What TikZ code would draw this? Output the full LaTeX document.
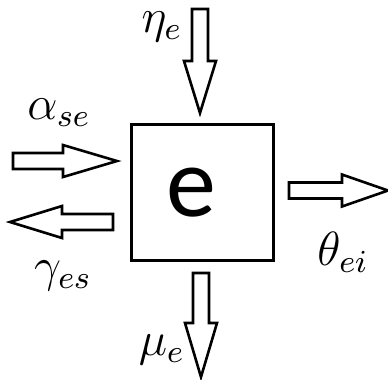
\documentclass[tikz,border=0pt]{standalone}
\usepackage{fontspec}
\newfontfamily\boitefont{Carlito}
\tikzset{
    fleche/.style={draw, line width=0.65pt, fill=white, line join=miter},
    etiquette/.style={inner sep=0pt, font=\fontsize{11.5}{11.5}\selectfont},
}
\begin{document}
\begin{tikzpicture}[x=0.25pt, y=-0.25pt]
    \useasboundingbox (0,0) rectangle (388,379);
    % la boite centrale
    \node[draw, line width=0.75pt, minimum width=142*0.25pt, minimum height=136*0.25pt] (boite) at (203,192) {};
    \node[inner sep=0pt, font=\boitefont\fontsize{25}{25}\selectfont] (lettre) at (191,193) {e};
    % les flux : depart, angle, longueur, longueur de la tete
    \foreach \x/\y/\angle/\longueur/\tete in {
        200/9/-90/104/52,
        201/273/-90/104/54,
        13/161/0/104/54,
        113/222/180/103/52,
        289/190.5/0/99/46
    }{
        \draw[fleche, shift={(\x,\y)}, rotate=\angle]
            (0,-8) -- (\longueur-\tete,-8) -- (\longueur-\tete,-16) -- (\longueur,0)
            -- (\longueur-\tete,16) -- (\longueur-\tete,8) -- (0,8) -- cycle;
    }
    \node[etiquette] (eta) at (162,27) {$\eta_e$};
    \node[etiquette] (alpha) at (59,113) {$\alpha_{se}$};
    \node[etiquette] (gamma) at (63,276) {$\gamma_{es}$};
    \node[etiquette] (theta) at (343,252) {$\theta_{ei}$};
    \node[etiquette] (mu) at (162,350) {$\mu_e$};
\end{tikzpicture}
\end{document}
